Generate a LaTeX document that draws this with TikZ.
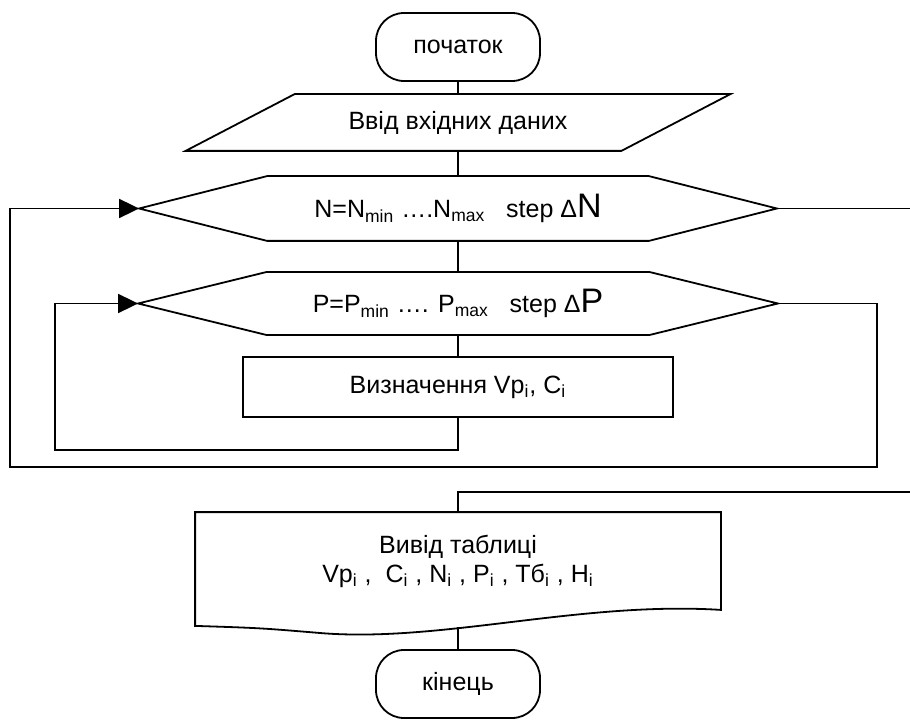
\documentclass[tikz,border=0pt]{standalone}
\usepackage{fontspec}
\setmainfont{Liberation Sans}
\usetikzlibrary{arrows.meta}

\newcommand{\lo}[1]{\textsubscript{#1}}
\newcommand{\bigtxt}[1]{{\fontsize{17}{17}\selectfont #1}}

\begin{document}
\begin{tikzpicture}[x=0.5pt, y=-0.5pt, line width=0.9pt,
    font=\fontsize{12.5}{14.5}\selectfont,
    term/.style={draw, rounded corners=14pt, minimum width=82pt, minimum height=34pt},
    blk/.style={inner sep=0pt, align=center},
    arr/.style={-{Triangle[length=10pt, width=9.5pt]}}]
    \useasboundingbox (0,0) rectangle (910,727);

    \node (start) [term] at (458,47) {початок};
    \node (input) [blk, minimum width=271.5pt, minimum height=27.5pt] at (458,122.5) {Ввід вхідних даних};
    \node (hexN) [blk, minimum width=318pt, minimum height=31.5pt] at (458,208.5)
      {N=N\lo{min} ….N\lo{max}\ \ \ step Δ\bigtxt{N}};
    \node (hexP) [blk, minimum width=319pt, minimum height=30.5pt] at (458,303.5)
      {P=P\lo{min} …. P\lo{max}\ \ \ step Δ\bigtxt{P}};
    \node (calc) [blk, draw, minimum width=215pt, minimum height=30pt] at (458,387) {Визначення Vp\lo{i}, C\lo{i}};
    \node (out) [blk, minimum width=262pt, minimum height=48pt] at (458,561)
      {Вивід таблиці\\Vp\lo{i} ,\ \ C\lo{i} , N\lo{i} , P\lo{i} , Тб\lo{i} , H\lo{i}};
    \node (stop) [term] at (458,684) {кінець};

    \coordinate (exitN) at (910,208.5);
    \coordinate (back) at (910,492);
    \coordinate (outlow) at (458,627);

    % outlines
    \draw ([xshift=54.5pt]input.north west) -- (input.north east)
      -- ([xshift=-54.5pt]input.south east) -- (input.south west) -- cycle;
    \draw (hexN.west) -- ([xshift=64pt]hexN.north west) -- ([xshift=-64pt]hexN.north east)
      -- (hexN.east) -- ([xshift=-64pt]hexN.south east) -- ([xshift=64pt]hexN.south west) -- cycle;
    \draw (hexP.west) -- ([xshift=64pt]hexP.north west) -- ([xshift=-64pt]hexP.north east)
      -- (hexP.east) -- ([xshift=-64pt]hexP.south east) -- ([xshift=64pt]hexP.south west) -- cycle;
    \draw (out.south east) .. controls (580,601) and (440,643) .. (320,633)
      .. controls (260,628) .. ([yshift=-8pt]out.south west)
      -- (out.north west) -- (out.north east) -- cycle;

    % links
    \draw (start.south) -- (input.north);
    \draw (input.south) -- (hexN.north);
    \draw (hexN.south) -- (hexP.north);
    \draw (hexP.south) -- (calc.north);
    \draw [arr] (calc.south) |- (55,450) |- (hexP.west);
    \draw [arr] (hexP.east) -| (877,467) -- (10,467) |- (hexN.west);
    \draw (hexN.east) -- (exitN);
    \draw (back) -| (out.north);
    \draw (outlow) -- (stop.north);
\end{tikzpicture}
\end{document}
